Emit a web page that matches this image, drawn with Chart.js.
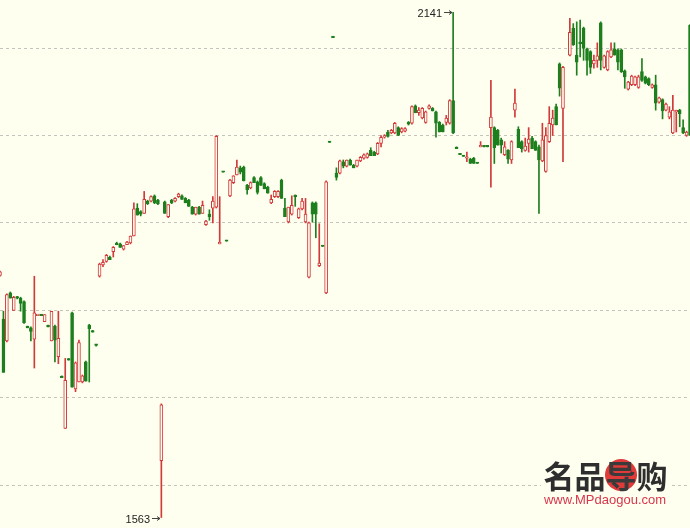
<!DOCTYPE html>
<html>
<head>
<meta charset="utf-8">
<script src="https://cdn.jsdelivr.net/npm/chart.js@4.4.0/dist/chart.umd.min.js"></script>
<style>
  html, body { margin: 0; padding: 0; background: #fffff0; }
  #wrap { width: 690px; height: 528px; position: relative; }
</style>
</head>
<body>
<div id="wrap"><canvas id="kline"></canvas></div>
<script>
// daily candles, one entry per session (null = no trade)
const OPEN = [
  1840,1790,1765,1820,1800,1815,1814,1810,1781,1780,
  1767,1794,1795,1787,1782,1765,1782,1747,1724,1665,
  1744,1797,1710,1718,1718,1741,1783,1776,1761,1839,
  1852,1856,1861,1867,1877,1876,1870,1875,1877,1885,
  1917,1913,1911,1925,1925,1931,1926,1628,1924,1907,
  1926,1925,1930,1931,1928,1926,1918,1910,1918,1911,
  1898,1910,1917,1918,1876,1959,1880,1931,1946,1955,
  1963,1964,1943,1940,1952,1947,1952,1945,1941,1923,
  1930,1930,1949,1917,1901,1910,1931,1906,1916,1901,
  1838,1923,1923,1851,1874,1820,1993,2113,1957,1957,
  1970,1965,1972,1966,1965,1971,1974,1975,1983,1981,
  1979,1991,1998,2004,2003,2003,2009,2004,2005,2015,
  2014,2034,2026,2020,2015,2031,2031,2027,2015,2012,
  2015,2014,2040,1986,1979,1977,1974,1973,1974,1969,
  1987,1988,1988,2009,2009,2006,1995,1978,1983,1972,
  2029,2007,1993,1983,1991,1997,1993,1987,1971,1959,
  1993,2012,2033,2082,2031,null,2092,2123,2092,2107,
  2123,2099,2096,2082,2086,2129,2078,2075,2090,2099,
  2098,2098,2074,2053,2058,2058,2055,2073,2067,2065,
  2055,2058,2038,2041,2029,2021,2003,2027,2029,2009,
  2000,2126
];
const HIGH = [
  1845,1799,1819,1821,1816,1816,1815,1811,1782,1781,
  1839,1795,1795,1795,1783,1799,1783,1799,1725,1745,
  1745,1798,1741,1766,1726,1742,1784,1777,1761,1854,
  1858,1864,1862,1873,1878,1877,1874,1879,1885,1923,
  1922,1914,1936,1926,1931,1932,1927,1693,1925,1921,
  1927,1929,1934,1932,1929,1927,1919,1918,1919,1925,
  1903,1915,1930,2000,1930,1959,1880,1950,1954,1972,
  1965,1965,1944,1947,1953,1948,1953,1946,1942,1932,
  1937,1937,1950,1928,1918,1931,1932,1917,1928,1928,
  1901,1924,1924,1899,1874,1948,1993,2113,1963,1972,
  1972,1972,1973,1967,1972,1976,1979,1980,1986,1982,
  1992,2000,2001,2006,2007,2015,2010,2009,2009,2016,
  2034,2035,2032,2032,2028,2035,2032,2028,2016,2013,
  2023,2041,2141,1987,1979,1977,1981,1974,1975,1969,
  1993,1988,1988,2063,2010,2007,1997,1993,1984,1994,
  2053,2010,1994,1997,2009,1999,1994,1989,2014,2009,
  2033,2029,2036,2083,2079,null,2134,2128,2130,2132,
  2124,2100,2097,2092,2106,2130,2092,2097,2106,2106,
  2099,2099,2075,2062,2069,2068,2069,2088,2068,2066,
  2059,2069,2044,2042,2037,2033,2046,2029,2030,2018,
  2005,2127
];
const LOW = [
  1839,1729,1764,1814,1800,1813,1799,1785,1780,1765,
  1734,1794,1794,1787,1781,1765,1741,1739,1723,1665,
  1743,1712,1707,1718,1717,1719,1718,1775,1759,1838,
  1850,1855,1858,1861,1875,1872,1869,1875,1876,1885,
  1909,1908,1911,1921,1924,1922,1921,1563,1911,1906,
  1922,1924,1929,1927,1923,1919,1910,1909,1910,1911,
  1897,1903,1900,1917,1876,1958,1879,1930,1945,1955,
  1956,1948,1933,1939,1946,1933,1943,1939,1934,1922,
  1929,1929,1928,1907,1900,1909,1919,1905,1915,1900,
  1837,1901,1883,1850,1873,1819,1992,2112,1949,1956,
  1963,1964,1966,1963,1964,1970,1973,1974,1977,1977,
  1978,1987,1997,1998,2002,2002,2000,2003,2004,2012,
  2013,2026,2023,2019,2014,2030,2028,1998,2004,2004,
  2012,2013,2002,1985,1978,1976,1970,1968,1968,1968,
  1987,1987,1987,1941,1968,1989,1980,1977,1968,1968,
  2021,1986,1981,1982,1981,1985,1983,1911,1970,1958,
  1992,2000,2012,2045,1970,null,2091,2103,2069,2090,
  2086,2069,2071,2077,2078,2075,2077,2074,2089,2092,
  2075,2072,2054,2052,2057,2057,2054,2062,2059,2057,
  2054,2029,2037,2019,2028,2019,2002,2004,2010,2002,
  1999,2000
];
const CLOSE = [
  1844,1729,1818,1814,1815,1814,1808,1786,1780,1776,
  1797,1795,1794,1795,1781,1799,1766,1768,1723,1720,
  1743,1712,1740,1763,1725,1719,1779,1775,1760,1853,
  1855,1863,1858,1872,1875,1872,1874,1878,1885,1916,
  1909,1910,1927,1922,1930,1923,1922,1692,1911,1921,
  1923,1928,1933,1927,1923,1919,1910,1918,1910,1920,
  1902,1907,1925,1999,1877,1958,1879,1949,1954,1964,
  1958,1948,1938,1946,1946,1935,1943,1939,1934,1927,
  1936,1936,1928,1907,1918,1920,1930,1916,1925,1910,
  1900,1910,1910,1854,1873,1947,1992,2112,1952,1971,
  1965,1972,1966,1963,1972,1975,1978,1979,1977,1977,
  1991,1998,2000,1999,2006,2014,2000,2008,2008,2013,
  2033,2026,2029,2031,2027,2034,2028,2014,2004,2004,
  2020,2040,2003,1985,1978,1976,1975,1968,1968,1968,
  1988,1987,1987,2021,1986,1989,1989,1987,1973,1993,
  2037,1986,1985,1988,1996,1985,1983,1972,1995,2000,
  2014,2020,2012,2054,2078,null,2118,2104,2084,2105,
  2100,2086,2078,2086,2091,2086,2091,2096,2098,2092,
  2084,2073,2067,2061,2068,2067,2067,2063,2060,2058,
  2058,2037,2043,2028,2036,2027,2029,2028,2025,2003,
  2004,2000
];
const GRID_LEVELS = [1600, 1700, 1800, 1900, 2000, 2100];

const UP = '#d13a3a';
const DOWN = '#1d7f1d';
const BG = '#fffff0';

const labels = OPEN.map((_, i) => i);
const isUp = OPEN.map((o, i) => o !== null && CLOSE[i] >= o);
const bodies = OPEN.map((o, i) => o === null ? null : [o, CLOSE[i]]);
const wicks = OPEN.map((o, i) => o === null ? null : [LOW[i], HIGH[i]]);

// marks the highest high and lowest low with "value ->"
const extremes = {
  id: 'extremes',
  afterDatasetsDraw(chart) {
    const { ctx, scales: { x, y } } = chart;
    const highs = HIGH.filter(v => v !== null);
    const lows = LOW.filter(v => v !== null);
    const hiIdx = HIGH.indexOf(Math.max(...highs));
    const loIdx = LOW.indexOf(Math.min(...lows));
    const marks = [[hiIdx, HIGH[hiIdx]], [loIdx, LOW[loIdx]]];
    ctx.save();
    ctx.font = '11px "Liberation Sans"';
    ctx.fillStyle = '#222';
    ctx.strokeStyle = '#444';
    ctx.lineWidth = 1;
    ctx.textAlign = 'right';
    ctx.textBaseline = 'middle';
    marks.forEach(([i, v]) => {
      const px = Math.round(x.getPixelForValue(i));
      const py = Math.round(y.getPixelForValue(v)) + 0.5;
      ctx.fillText(String(v), px - 11, py + 1);
      ctx.beginPath();
      ctx.moveTo(px - 9, py);
      ctx.lineTo(px - 1, py);
      ctx.moveTo(px - 4, py - 2);
      ctx.lineTo(px - 1, py);
      ctx.lineTo(px - 4, py + 2);
      ctx.stroke();
    });
    ctx.restore();
  }
};

// site watermark in the bottom right corner
const watermark = {
  id: 'watermark',
  afterDraw(chart) {
    const ctx = chart.ctx;
    ctx.save();
    ctx.fillStyle = BG;
    ctx.fillRect(541, 458, 130, 50);
    ctx.fillStyle = '#e03a3a';
    ctx.beginPath();
    ctx.arc(621, 475, 16, 0, Math.PI * 2);
    ctx.fill();
    ctx.font = 'bold 31px "Noto Sans CJK SC"';
    ctx.textAlign = 'center';
    ctx.textBaseline = 'middle';
    ['名', '品', '导', '购'].forEach((ch, k) => {
      ctx.fillStyle = k === 2 ? '#3a3a3a' : '#2e2e2e';
      ctx.fillText(ch, 559 + k * 31, 476);
    });
    ctx.font = '13px "Liberation Sans"';
    ctx.fillStyle = '#d8364c';
    ctx.fillText('www.MPdaogou.com', 605, 500);
    ctx.restore();
  }
};

new Chart(document.getElementById('kline'), {
  type: 'bar',
  data: {
    labels,
    datasets: [
      {
        label: 'body',
        data: bodies,
        order: 0,
        grouped: false,
        barThickness: 3,
        minBarLength: 1.5,
        backgroundColor: isUp.map(u => u ? BG : DOWN),
        borderColor: isUp.map(u => u ? UP : DOWN),
        borderWidth: 1,
        borderSkipped: false
      },
      {
        label: 'wick',
        data: wicks,
        order: 1,
        grouped: false,
        barThickness: 1,
        minBarLength: 1,
        backgroundColor: isUp.map(u => u ? UP : DOWN),
        borderWidth: 0
      }
    ]
  },
  options: {
    responsive: true,
    maintainAspectRatio: false,
    animation: false,
    layout: { padding: 0 },
    plugins: {
      legend: { display: false },
      tooltip: { enabled: false }
    },
    scales: {
      x: { display: false, offset: false },
      y: {
        min: 1551,
        max: 2155,
        afterBuildTicks: axis => { axis.ticks = GRID_LEVELS.map(v => ({ value: v })); },
        afterFit: axis => { axis.width = 0; },
        ticks: { display: false },
        border: { display: false, dash: [3, 3] },
        grid: { color: '#c4c4bc', drawTicks: false }
      }
    }
  },
  plugins: [extremes, watermark]
});
</script>
</body>
</html>
